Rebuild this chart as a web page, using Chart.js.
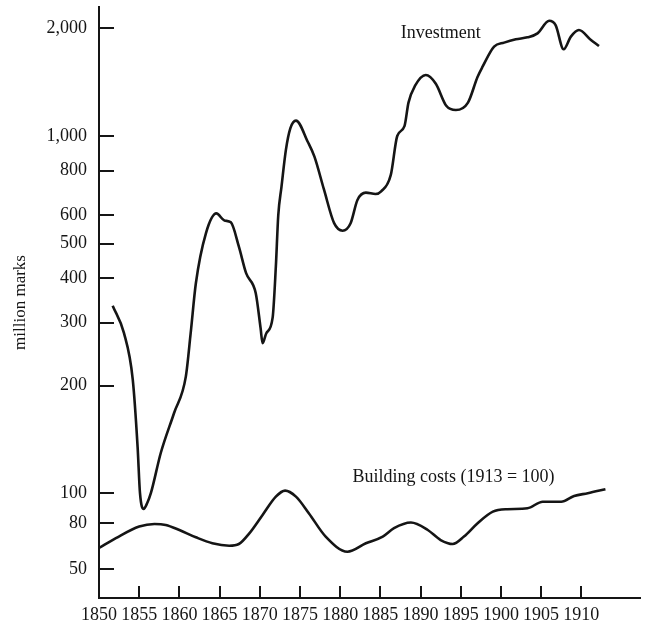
<!DOCTYPE html>
<html>
<head>
<meta charset="utf-8">
<script src="https://cdn.jsdelivr.net/npm/chart.js@4.4.1/dist/chart.umd.min.js"></script>
<style>
  html, body { margin: 0; padding: 0; background: #fff; }
  #wrap { width: 648px; height: 628px; position: relative; }
</style>
</head>
<body>
<div id="wrap"><canvas id="chart"></canvas></div>
<script>
// Investment (million marks)
const invYears = [1851.7, 1853.1, 1854.2, 1854.8, 1855.1, 1855.55, 1856.0, 1856.45, 1857.7, 1859.35,
  1860.8, 1861.4, 1862.05, 1863.3, 1864.6, 1865.6, 1866.4, 1867.4, 1868.3, 1869.5,
  1870.1, 1870.35, 1870.8, 1871.6, 1872.0, 1872.3, 1872.7, 1873.25, 1873.8, 1874.5,
  1876.0, 1876.8, 1878.0, 1879.25, 1880.3, 1881.3, 1882.15, 1883.2, 1884.4, 1885.1,
  1886.3, 1887.1, 1888.0, 1888.5, 1889.3, 1890.65, 1891.9, 1893.2, 1894.4, 1895.9,
  1897.1, 1897.7, 1899.15, 1900.4, 1901.85, 1903.3, 1904.55, 1906.0, 1906.8, 1907.8,
  1908.7, 1909.7, 1911.2, 1912.2];
const invValues = [335, 281, 208, 135, 100, 89, 93, 100, 130, 168,
  212, 280, 387, 534, 607, 580, 573, 490, 413, 363,
  290, 263, 280, 310, 431, 600, 720, 914, 1050, 1104,
  960, 875, 706, 570, 543, 570, 662, 694, 688, 700,
  778, 1000, 1065, 1240, 1380, 1481, 1400, 1215, 1182, 1240,
  1465, 1560, 1778, 1825, 1865, 1888, 1937, 2101, 2043, 1748,
  1897, 1979, 1856, 1785];

// Building costs (1913 = 100)
const costYears = [1850.0, 1852.1, 1855.0, 1856.9, 1858.3, 1860.0, 1862.05, 1864.1, 1866.2, 1867.4,
  1868.7, 1870.35, 1872.0, 1873.15, 1874.5, 1876.1, 1878.2, 1880.9, 1883.2, 1885.3,
  1886.7, 1888.8, 1890.9, 1892.5, 1894.0, 1895.4, 1897.1, 1899.0, 1900.8, 1903.3,
  1905.2, 1907.5, 1909.1, 1910.8, 1913.0];
const costValues = [62, 68.6, 77.3, 79.4, 78.6, 74.6, 69.2, 65.1, 63.5, 64.6,
  72.1, 85.1, 97.5, 101.7, 97.5, 86.2, 69.7, 59.7, 65.1, 69.7,
  76.0, 80.4, 74.6, 67.3, 64.6, 69.7, 80, 87.2, 88.8, 89.4,
  93.9, 93.9, 98, 100, 102.6];

const xTicks = [1850, 1855, 1860, 1865, 1870, 1875, 1880, 1885, 1890, 1895, 1900, 1905, 1910];
const yTicks = [50, 80, 100, 200, 300, 400, 500, 600, 800, 1000, 2000];

const notes = [
  { text: 'Investment', year: 1892.5, value: 1940 },
  { text: 'Building costs (1913 = 100)', year: 1894.1, value: 111 }
];

const FONT = "'Liberation Serif', 'DejaVu Serif', serif";
const INK = '#151515';

// The printed axis is logarithmic above 100 but squeezed below it:
// 100..80 runs at 0.866 and 80..50 at 0.627 of the normal decade length.
function warp(v) {
  const l = Math.log10(v);
  if (l >= 2) return v;
  const l80 = Math.log10(80);
  if (l >= l80) return Math.pow(10, 2 - (2 - l) * 0.866);
  return Math.pow(10, 2 - (2 - l80) * 0.866 - (l80 - l) * 0.627);
}
function unwarp(w) {
  const l = Math.log10(w);
  if (l >= 2) return w;
  const l80 = Math.log10(80);
  const w80 = 2 - (2 - l80) * 0.866;
  if (l >= w80) return Math.pow(10, 2 - (2 - l) / 0.866);
  return Math.pow(10, l80 - (w80 - l) / 0.627);
}

class PrintedLogScale extends Chart.LogarithmicScale {
  getPixelForValue(value) {
    if (value === undefined || value === null || isNaN(value)) return super.getPixelForValue(value);
    return super.getPixelForValue(warp(value));
  }
  getValueForPixel(pixel) {
    return unwarp(super.getValueForPixel(pixel));
  }
}
PrintedLogScale.id = 'printedLog';
PrintedLogScale.defaults = Chart.LogarithmicScale.defaults;
Chart.register(PrintedLogScale);

// ticks in the book point inward, so draw them by hand from the scales
const inwardTicks = {
  id: 'inwardTicks',
  afterDraw(chart) {
    const { ctx, scales: { x, y } } = chart;
    ctx.save();
    ctx.strokeStyle = INK;
    ctx.lineWidth = 2;
    ctx.beginPath();
    y.ticks.forEach(t => {
      const py = Math.round(y.getPixelForValue(t.value));
      ctx.moveTo(y.right, py);
      ctx.lineTo(y.right + 15, py);
    });
    x.ticks.forEach(t => {
      if (t.value === x.min) return;
      const px = Math.round(x.getPixelForValue(t.value));
      ctx.moveTo(px, x.top);
      ctx.lineTo(px, x.top - 12);
    });
    ctx.stroke();

    // curve labels
    ctx.fillStyle = INK;
    ctx.font = '18px ' + FONT;
    ctx.textAlign = 'center';
    ctx.textBaseline = 'middle';
    notes.forEach(n => {
      ctx.fillText(n.text, x.getPixelForValue(n.year), y.getPixelForValue(n.value));
    });
    ctx.restore();
  }
};

const toPoints = (xs, ys) => xs.map((v, i) => ({ x: v, y: ys[i] }));

new Chart(document.getElementById('chart'), {
  type: 'line',
  data: {
    datasets: [{
      label: 'Investment',
      data: toPoints(invYears, invValues),
      borderColor: INK,
      borderWidth: 2.6,
      pointRadius: 0,
      cubicInterpolationMode: 'monotone',
      fill: false
    }, {
      label: 'Building costs (1913 = 100)',
      data: toPoints(costYears, costValues),
      borderColor: INK,
      borderWidth: 2.6,
      pointRadius: 0,
      cubicInterpolationMode: 'monotone',
      fill: false
    }]
  },
  options: {
    responsive: true,
    maintainAspectRatio: false,
    animation: false,
    layout: { padding: { top: 7, right: 8, bottom: 0, left: 0 } },
    plugins: {
      legend: { display: false },
      tooltip: { enabled: false }
    },
    scales: {
      x: {
        type: 'linear',
        min: 1850,
        max: 1917.3,
        bounds: 'data',
        grid: { display: false, drawTicks: false },
        border: { display: true, color: INK, width: 2 },
        afterBuildTicks: s => { s.ticks = xTicks.map(v => ({ value: v })); },
        afterFit: s => { s.height = 30; s.paddingLeft = 0; s.paddingRight = 0; },
        ticks: {
          autoSkip: false,
          maxRotation: 0,
          padding: 6,
          color: INK,
          font: { family: FONT, size: 18 },
          callback: v => String(v)
        }
      },
      y: {
        type: 'printedLog',
        min: 50.9,
        max: 2296,
        bounds: 'data',
        grid: { display: false, drawTicks: false },
        border: { display: true, color: INK, width: 2 },
        afterBuildTicks: s => { s.ticks = yTicks.map(v => ({ value: v })); },
        afterFit: s => { s.width = 99; s.paddingTop = 0; s.paddingBottom = 0; },
        ticks: {
          autoSkip: false,
          padding: 12,
          color: INK,
          font: { family: FONT, size: 18 },
          callback: v => v.toLocaleString('en-US')
        },
        title: {
          display: true,
          text: 'million marks',
          color: INK,
          font: { family: FONT, size: 17 },
          padding: { top: 10, bottom: 0 }
        }
      }
    }
  },
  plugins: [inwardTicks]
});
</script>
</body>
</html>
